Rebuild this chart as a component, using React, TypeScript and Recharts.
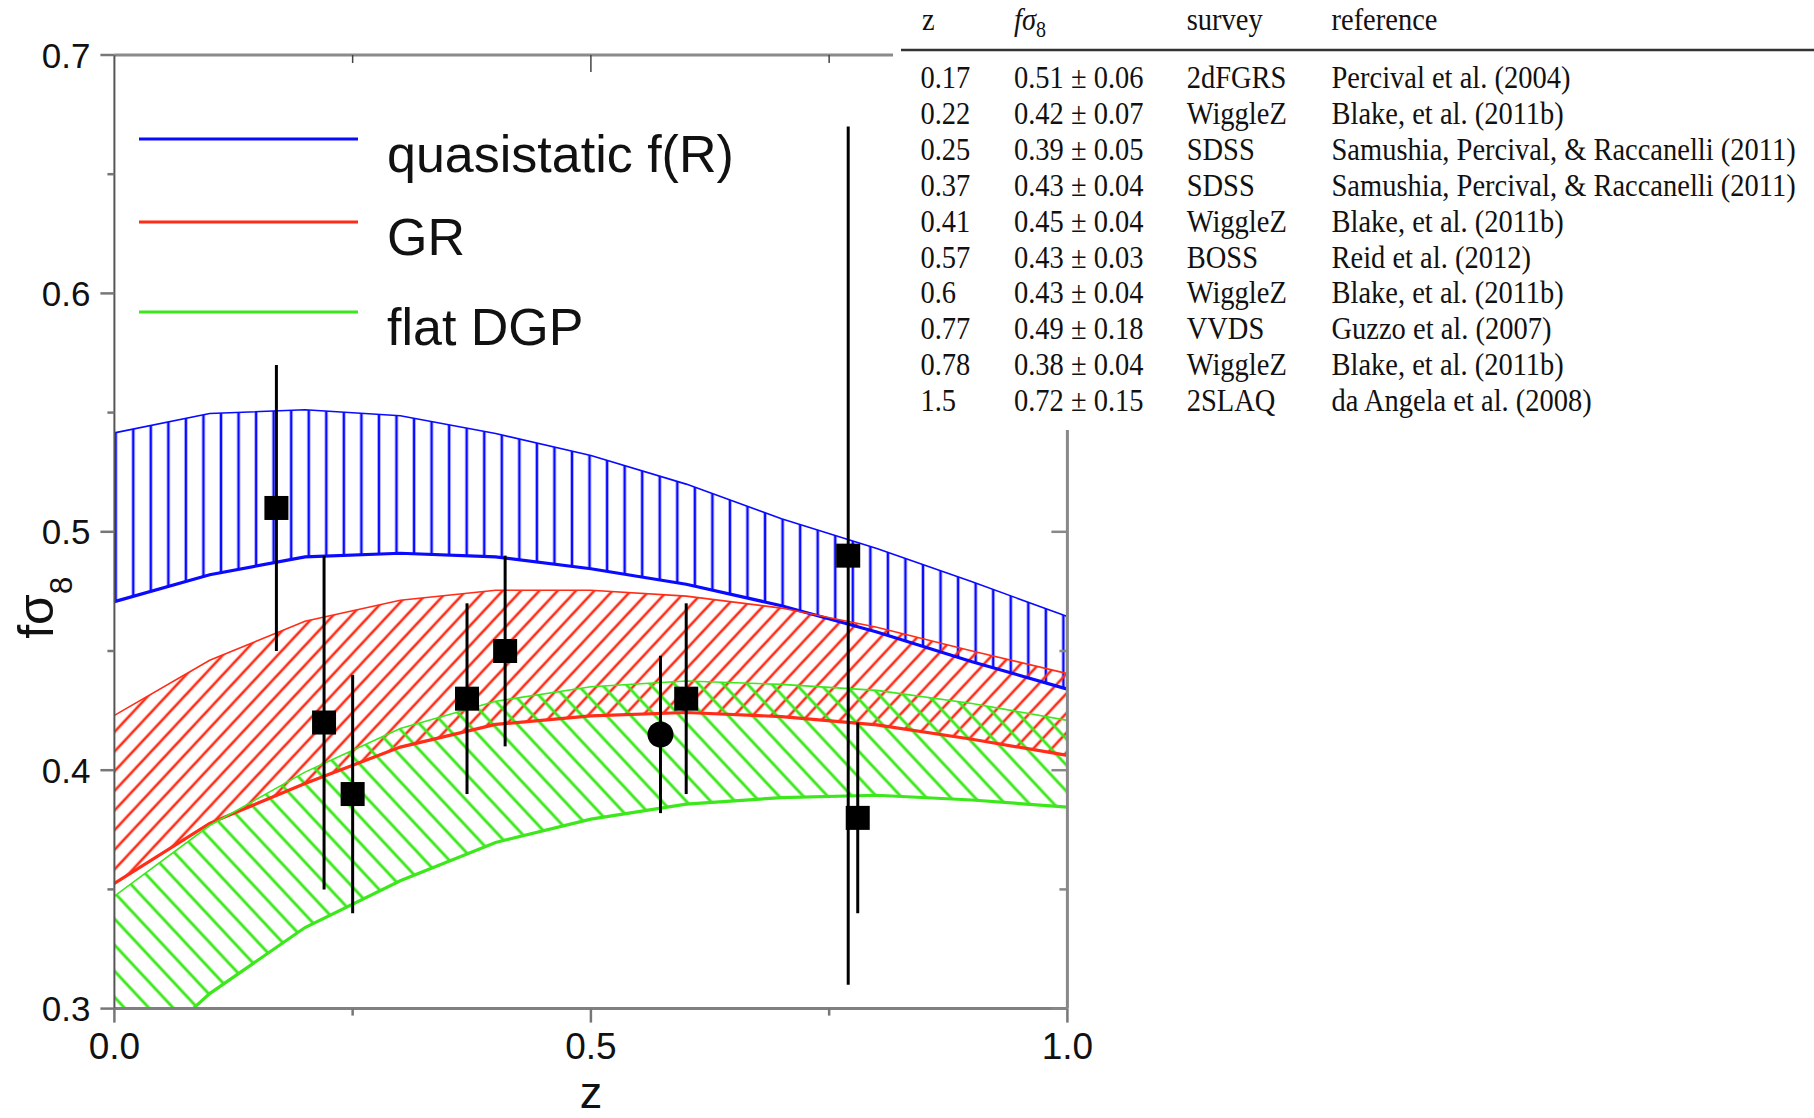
import React from "react";
import { ComposedChart, Area, Line, Scatter, ErrorBar, XAxis, YAxis, Legend, Label } from "recharts";

const zGrid = [0, 0.1, 0.2, 0.3, 0.4, 0.5, 0.6, 0.7, 0.8, 0.9, 1.0];
const fRHigh = [0.5415, 0.5496, 0.5512, 0.5487, 0.5412, 0.532, 0.52, 0.5055, 0.493, 0.479, 0.4645];
const fRLow = [0.4707, 0.482, 0.4895, 0.491, 0.4895, 0.4845, 0.478, 0.469, 0.458, 0.4455, 0.434];
const grHigh = [0.423, 0.4461, 0.4625, 0.4713, 0.4755, 0.4755, 0.473, 0.468, 0.46, 0.45, 0.4405];
const grLow = [0.3525, 0.3777, 0.3944, 0.4097, 0.4192, 0.4228, 0.4242, 0.4225, 0.419, 0.413, 0.4062];
const dgpHigh = [0.3472, 0.3768, 0.3992, 0.4175, 0.4289, 0.435, 0.4374, 0.436, 0.4335, 0.428, 0.4209];
const dgpLow = [0.27, 0.3063, 0.334, 0.3536, 0.3697, 0.3795, 0.3858, 0.3885, 0.3895, 0.3875, 0.3845];

// measurements drawn on the plot
const obsZ = [0.17, 0.22, 0.25, 0.37, 0.41, 0.6, 0.77, 0.78];
const obsF = [0.51, 0.42, 0.39, 0.43, 0.45, 0.43, 0.49, 0.38];
const obsErr = [0.06, 0.07, 0.05, 0.04, 0.04, 0.04, 0.18, 0.04];
const bossZ = [0.573];
const bossF = [0.415];
const bossErr = [0.033];

// table on the right
const tableZ = ["0.17", "0.22", "0.25", "0.37", "0.41", "0.57", "0.6", "0.77", "0.78", "1.5"];
const tableF = [0.51, 0.42, 0.39, 0.43, 0.45, 0.43, 0.43, 0.49, 0.38, 0.72];
const tableErr = [0.06, 0.07, 0.05, 0.04, 0.04, 0.03, 0.04, 0.18, 0.04, 0.15];
const tableSurvey = ["2dFGRS", "WiggleZ", "SDSS", "SDSS", "WiggleZ", "BOSS", "WiggleZ", "VVDS", "WiggleZ", "2SLAQ"];
const tableRef = [
    "Percival et al. (2004)",
    "Blake, et al. (2011b)",
    "Samushia, Percival, & Raccanelli (2011)",
    "Samushia, Percival, & Raccanelli (2011)",
    "Blake, et al. (2011b)",
    "Reid et al. (2012)",
    "Blake, et al. (2011b)",
    "Guzzo et al. (2007)",
    "Blake, et al. (2011b)",
    "da Angela et al. (2008)",
];

const yTicks = [0.3, 0.35, 0.4, 0.45, 0.5, 0.55, 0.6, 0.65, 0.7];
const xTicks = [0, 0.25, 0.5, 0.75, 1.0];
const legendNames = ["quasistatic f(R)", "GR", "flat DGP"];

const BLUE = "#0a0aff";
const RED = "#ff2d17";
const GREEN = "#3ce81c";
const SANS = "'Liberation Sans', Arial, sans-serif";
const SERIF = "'Liberation Serif', 'Times New Roman', serif";

const W = 1814;
const H = 1118;
const PLOT_LEFT = 114.4;
const PLOT_TOP = 55;
const RIGHT_GAP = 746.6;
const BOTTOM_GAP = 109.4;
const BLUE_STEP = 17.55;

const bandRows = zGrid.map((z, i) => ({
    z,
    fR: [fRLow[i], fRHigh[i]],
    gr: [grLow[i], grHigh[i]],
    dgp: [dgpLow[i], dgpHigh[i]],
    fRHi: fRHigh[i],
    fRLo: fRLow[i],
    grHi: grHigh[i],
    grLo: grLow[i],
    dgpHi: dgpHigh[i],
    dgpLo: dgpLow[i],
}));

const squarePts = obsZ.map((z, i) => ({ z, f: obsF[i], err: obsErr[i] }));
const circlePts = bossZ.map((z, i) => ({ z, f: bossF[i], err: bossErr[i] }));

const isMajorY = (v: number) => Math.abs(v * 10 - Math.round(v * 10)) < 1e-6;
const isMajorX = (v: number) => Math.abs(v * 2 - Math.round(v * 2)) < 1e-6;

const LeftTick = (props: any) => {
    const { x, y, payload } = props;
    const major = isMajorY(payload.value);
    return (
        <g>
            <line x1={x} x2={x - (major ? 14 : 7)} y1={y} y2={y} stroke="#777" strokeWidth={2.5} />
            {major && (
                <text x={x - 24} y={y + 12.5} textAnchor="end" fontSize={35} fontFamily={SANS} fill="#111">
                    {payload.value.toFixed(1)}
                </text>
            )}
        </g>
    );
};

const RightTick = (props: any) => {
    const { x, y, payload } = props;
    const major = isMajorY(payload.value);
    return <line x1={x} x2={x - (major ? 16 : 8)} y1={y} y2={y} stroke="#888" strokeWidth={2.5} />;
};

const BottomTick = (props: any) => {
    const { x, y, payload } = props;
    const major = isMajorX(payload.value);
    return (
        <g>
            <line x1={x} x2={x} y1={y} y2={y + (major ? 14 : 7)} stroke="#777" strokeWidth={2.5} />
            {major && (
                <text x={x} y={y + 50} textAnchor="middle" fontSize={37} fontFamily={SANS} fill="#111">
                    {payload.value.toFixed(1)}
                </text>
            )}
        </g>
    );
};

const TopTick = (props: any) => {
    const { x, y, payload } = props;
    const major = isMajorX(payload.value);
    return <line x1={x} x2={x} y1={y} y2={y + (major ? 17 : 8)} stroke="#444" strokeWidth={1.5} />;
};

const renderYLabel = (props: any) => {
    const vb = props.viewBox;
    const cx = vb.x + 53;
    const cy = vb.y + vb.height / 2 + 76;
    return (
        <text
            x={cx}
            y={cy}
            transform={`rotate(-90, ${cx}, ${cy})`}
            textAnchor="middle"
            fontSize={50}
            fontFamily={SANS}
            fill="#111"
        >
            fσ
            <tspan dy={19} fontSize={31}>8</tspan>
        </text>
    );
};

const renderXLabel = (props: any) => {
    const vb = props.viewBox;
    return (
        <text x={vb.x + vb.width / 2} y={vb.y + 99} textAnchor="middle" fontSize={45} fontFamily={SANS} fill="#111">
            z
        </text>
    );
};

// legend rows are not evenly spaced in the original
const legendLineY = [39, 122, 212];
const legendTextY = [72, 155, 245];

const renderLegend = (props: any) => {
    const items = (props.payload || []).filter((p: any) => legendNames.includes(p.value));
    items.sort((a: any, b: any) => legendNames.indexOf(a.value) - legendNames.indexOf(b.value));
    return (
        <svg width={680} height={280} style={{ display: "block", overflow: "visible" }}>
            {items.map((entry: any, i: number) => (
                <g key={entry.value}>
                    <line x1={9} x2={228} y1={legendLineY[i]} y2={legendLineY[i]} stroke={entry.color} strokeWidth={3} />
                    <text x={257} y={legendTextY[i]} fontSize={52} fontFamily={SANS} fill="#111">
                        {entry.value}
                    </text>
                </g>
            ))}
        </svg>
    );
};

const squareShape = (props: any) => {
    const { cx, cy } = props;
    return <rect x={cx - 12} y={cy - 12} width={24} height={24} fill="#000" />;
};

const circleShape = (props: any) => {
    const { cx, cy } = props;
    return <circle cx={cx} cy={cy} r={13} fill="#000" />;
};

function DataTable() {
    const colX = [27.5, 121, 293.7, 438.5];
    const rowY = (i: number) => 88.3 + 35.85 * i;
    const T = ({ x, y, children }: any) => (
        <text transform={`translate(${x},${y}) scale(1,1.12)`} fontSize={28.5} fontFamily={SERIF} fill="#111">
            {children}
        </text>
    );
    return (
        <svg width={921} height={430} style={{ position: "absolute", left: 893, top: 0, background: "#fff" }}>
            <rect x={0} y={0} width={921} height={430} fill="#fff" />
            <T x={29} y={30}>z</T>
            <T x={colX[1]} y={30}>
                <tspan fontStyle="italic">fσ</tspan>
                <tspan dy={6} fontSize={20}>8</tspan>
            </T>
            <T x={colX[2]} y={30}>survey</T>
            <T x={colX[3]} y={30}>reference</T>
            <line x1={8} x2={921} y1={50} y2={50} stroke="#333" strokeWidth={2.5} />
            {tableZ.map((z, i) => (
                <g key={i}>
                    <T x={colX[0]} y={rowY(i)}>{z}</T>
                    <T x={colX[1]} y={rowY(i)}>{`${tableF[i].toFixed(2)} ± ${tableErr[i].toFixed(2)}`}</T>
                    <T x={colX[2]} y={rowY(i)}>{tableSurvey[i]}</T>
                    <T x={colX[3]} y={rowY(i)}>{tableRef[i]}</T>
                </g>
            ))}
        </svg>
    );
}

export default function App() {
    return (
        <div style={{ position: "absolute", left: 0, top: 0, width: W, height: H, background: "#fff" }}>
            <ComposedChart width={W} height={H} data={bandRows} margin={{ top: 0, right: 0, bottom: 0, left: 0 }}>
                <defs>
                    <pattern
                        id="hatchFR"
                        patternUnits="userSpaceOnUse"
                        x={PLOT_LEFT + 1.3 - BLUE_STEP / 2}
                        y={0}
                        width={BLUE_STEP}
                        height={20}
                    >
                        <line x1={BLUE_STEP / 2} x2={BLUE_STEP / 2} y1={-1} y2={21} stroke={BLUE} strokeWidth={2.6} />
                    </pattern>
                    <pattern id="hatchGR" patternUnits="userSpaceOnUse" width={13.4} height={20} patternTransform="rotate(43)">
                        <line x1={6.7} x2={6.7} y1={-1} y2={21} stroke={RED} strokeWidth={2.6} />
                    </pattern>
                    <pattern id="hatchDGP" patternUnits="userSpaceOnUse" width={17.8} height={20} patternTransform="rotate(-43)">
                        <line x1={8.9} x2={8.9} y1={-1} y2={21} stroke={GREEN} strokeWidth={2.9} />
                    </pattern>
                </defs>

                <XAxis
                    dataKey="z"
                    type="number"
                    domain={[0, 1]}
                    allowDataOverflow
                    ticks={xTicks}
                    interval={0}
                    height={BOTTOM_GAP}
                    axisLine={{ stroke: "#808080", strokeWidth: 3 }}
                    tickLine={false}
                    tickSize={0}
                    tickMargin={0}
                    tick={BottomTick}
                >
                    <Label content={renderXLabel} />
                </XAxis>
                <XAxis
                    xAxisId="top"
                    orientation="top"
                    dataKey="z"
                    type="number"
                    domain={[0, 1]}
                    allowDataOverflow
                    ticks={[0.25, 0.5, 0.75]}
                    interval={0}
                    height={PLOT_TOP}
                    axisLine={{ stroke: "#8a8a8a", strokeWidth: 3 }}
                    tickLine={false}
                    tickSize={0}
                    tickMargin={0}
                    tick={TopTick}
                />
                <YAxis
                    type="number"
                    domain={[0.3, 0.7]}
                    allowDataOverflow
                    ticks={yTicks}
                    interval={0}
                    width={PLOT_LEFT}
                    axisLine={{ stroke: "#555", strokeWidth: 2 }}
                    tickLine={false}
                    tickSize={0}
                    tickMargin={0}
                    tick={LeftTick}
                >
                    <Label content={renderYLabel} />
                </YAxis>
                <YAxis
                    yAxisId="right"
                    orientation="right"
                    type="number"
                    domain={[0.3, 0.7]}
                    allowDataOverflow
                    ticks={yTicks}
                    interval={0}
                    width={RIGHT_GAP}
                    axisLine={{ stroke: "#888", strokeWidth: 3 }}
                    tickLine={false}
                    tickSize={0}
                    tickMargin={0}
                    tick={RightTick}
                />

                <Area dataKey="fR" type="linear" stroke="none" fill="url(#hatchFR)" fillOpacity={1} isAnimationActive={false} legendType="none" activeDot={false} />
                <Area dataKey="gr" type="linear" stroke="none" fill="url(#hatchGR)" fillOpacity={1} isAnimationActive={false} legendType="none" activeDot={false} />
                <Area dataKey="dgp" type="linear" stroke="none" fill="url(#hatchDGP)" fillOpacity={1} isAnimationActive={false} legendType="none" activeDot={false} />

                <Line dataKey="fRHi" name="quasistatic f(R)" type="linear" stroke={BLUE} strokeWidth={1.6} dot={false} activeDot={false} isAnimationActive={false} />
                <Line dataKey="fRLo" type="linear" stroke={BLUE} strokeWidth={3.2} dot={false} activeDot={false} isAnimationActive={false} legendType="none" />
                <Line dataKey="grHi" name="GR" type="linear" stroke={RED} strokeWidth={1.6} dot={false} activeDot={false} isAnimationActive={false} />
                <Line dataKey="grLo" type="linear" stroke={RED} strokeWidth={3.2} dot={false} activeDot={false} isAnimationActive={false} legendType="none" />
                <Line dataKey="dgpHi" name="flat DGP" type="linear" stroke={GREEN} strokeWidth={1.6} dot={false} activeDot={false} isAnimationActive={false} />
                <Line dataKey="dgpLo" type="linear" stroke={GREEN} strokeWidth={3.2} dot={false} activeDot={false} isAnimationActive={false} legendType="none" />

                <Scatter data={squarePts} dataKey="f" shape={squareShape} isAnimationActive={false} legendType="none">
                    <ErrorBar dataKey="err" direction="y" width={0} stroke="#000" strokeWidth={3} isAnimationActive={false} />
                </Scatter>
                <Scatter data={circlePts} dataKey="f" shape={circleShape} isAnimationActive={false} legendType="none">
                    <ErrorBar dataKey="err" direction="y" width={0} stroke="#000" strokeWidth={3} isAnimationActive={false} />
                </Scatter>

                <Legend
                    layout="vertical"
                    align="center"
                    verticalAlign="middle"
                    width={680}
                    height={280}
                    wrapperStyle={{ left: 130, top: 100, width: 680, height: 280 }}
                    content={renderLegend}
                />
            </ComposedChart>
            <DataTable />
        </div>
    );
}
